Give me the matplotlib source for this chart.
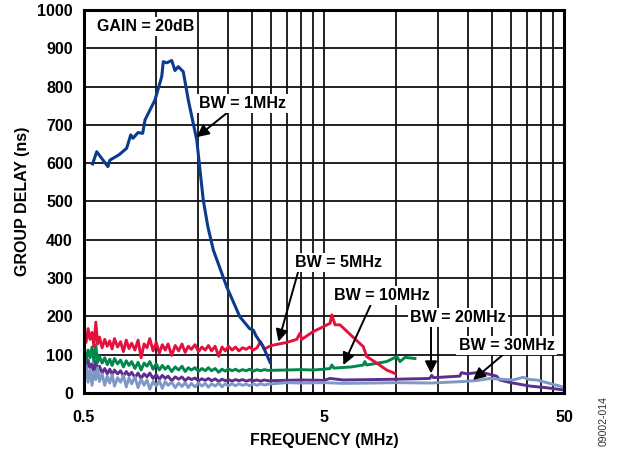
import numpy as np
import matplotlib.pyplot as plt
from matplotlib.ticker import FixedLocator, FixedFormatter, NullFormatter

plt.rcParams['font.family'] = ['Liberation Sans', 'DejaVu Sans']
plt.rcParams['font.weight'] = 'bold'

# Low-frequency sweep points shared by the noisy traces (MHz)
f_low = [0.500, 0.510, 0.520, 0.530, 0.540, 0.550, 0.560, 0.570, 0.580,
         0.595, 0.610, 0.625, 0.640, 0.655, 0.670, 0.690,
         0.710, 0.730, 0.750, 0.770, 0.790,
         0.815, 0.840, 0.865, 0.890, 0.915, 0.940, 0.970,
         1.000, 1.030, 1.060, 1.090, 1.120,
         1.160, 1.200, 1.240, 1.280, 1.320, 1.360, 1.400,
         1.450, 1.500, 1.550, 1.600, 1.650, 1.700,
         1.760, 1.820, 1.880, 1.940, 2.000,
         2.070, 2.140, 2.210, 2.290, 2.370, 2.450, 2.540, 2.630, 2.720, 2.820, 2.920]

# BW = 1MHz
f_1m = [0.543, 0.565, 0.629, 0.641, 0.70, 0.753, 0.783, 0.80, 0.84, 0.878, 0.898,
        0.988, 1.054, 1.07, 1.106, 1.16, 1.197, 1.235, 1.296, 1.36, 1.475, 1.57,
        1.641, 1.73, 1.967, 2.23, 2.45, 2.54, 2.60, 2.79, 2.98]
gd_1m = [598, 630, 591, 608, 622, 639, 674, 665, 680, 678, 713,
         765, 826, 865, 862, 868, 842, 852, 839, 765, 661, 504,
         434, 373, 277, 199, 168, 164, 150, 121, 80]

# BW = 5MHz
gd_5m_low = [150, 132, 168, 140, 158, 122, 185, 128, 146,
             118, 140, 122, 136, 115, 142, 120,
             134, 108, 138, 116, 130,
             112, 138, 92, 128, 118, 142, 110,
             132, 104, 126, 112, 128,
             98, 124, 110, 128, 106, 122, 114,
             126, 108, 120, 112, 124, 110,
             122, 96, 120, 110, 122,
             112, 120, 110, 118, 114, 120, 112, 118, 134, 114, 120]
f_5m_hi = [3.07, 3.5, 3.85, 3.97, 4.04, 4.5, 4.97, 5.30, 5.39, 5.56, 5.83, 6.5,
           7.29, 7.53, 8.3, 9.12, 9.88]
gd_5m_hi = [125, 132, 140, 156, 140, 160, 173, 182, 204, 178, 178, 150,
            121, 95, 78, 60, 51]

# BW = 10MHz
gd_10m_low = [105, 86, 112, 92, 120, 82, 124, 80, 96,
              78, 92, 74, 88, 72, 90, 76,
              86, 68, 84, 72, 82,
              64, 80, 60, 78, 70, 82, 62,
              76, 60, 72, 62, 70,
              56, 68, 60, 70, 56, 66, 60,
              66, 56, 64, 58, 66, 58,
              64, 54, 62, 57, 63,
              58, 62, 57, 61, 58, 62, 57, 61, 58, 61, 59]
f_10m_hi = [3.5, 4.0, 4.5, 4.97, 5.3, 5.39, 5.5, 6.5, 7.29, 7.4, 7.53, 9.12,
            10.05, 10.37, 10.88, 11.97]
gd_10m_hi = [60, 61, 60, 62, 64, 73, 65, 68, 73, 82, 73, 82,
             95, 82, 93, 90]

# BW = 20MHz
gd_20m_low = [80, 60, 86, 64, 76, 55, 82, 58, 70,
              52, 64, 50, 62, 48, 60, 50,
              58, 44, 56, 46, 54,
              40, 52, 38, 50, 42, 52, 38,
              48, 36, 46, 38, 44,
              32, 42, 36, 42, 32, 40, 35,
              39, 32, 37, 33, 38, 32,
              37, 30, 36, 32, 35,
              31, 35, 32, 35, 31, 34, 32, 34, 31, 34, 32]
f_20m_hi = [3.5, 4.0, 5.0, 5.3, 6.0, 8.0, 10.0, 12.0, 13.8, 14.05, 14.3, 18.4,
            18.7, 19.7, 21.6, 23.0, 26.2, 27.0, 30.0, 36.1, 42.0, 49.7]
gd_20m_hi = [33, 34, 33, 38, 34, 35, 36, 37, 38, 46, 40, 44,
             53, 50, 53, 53, 44, 34, 27, 18, 14, 8]

# BW = 30MHz
gd_30m_low = [45, 72, 28, 62, 20, 55, 35, 66, 30,
              50, 20, 44, 26, 48, 18, 40,
              28, 46, 16, 40, 24,
              42, 14, 36, 20, 34, 10, 30,
              18, 32, 12, 30, 20,
              28, 14, 26, 17, 27, 14, 25,
              16, 26, 18, 25, 15, 24,
              18, 26, 16, 24, 19,
              24, 19, 24, 20, 23, 19, 24, 20, 24, 21, 23]
f_30m_hi = [3.5, 4.0, 5.0, 6.0, 8.0, 10.0, 14.0, 19.0, 22.0, 24.6, 27.0, 30.7,
            33.8, 36.0, 38.5, 43.0, 50.0]
gd_30m_hi = [27, 26, 27, 25, 26, 27, 26, 30, 33, 38, 36, 34,
             41, 35, 34, 26, 15]

grid_freqs = [0.5 * k for k in range(1, 11)] + [5 * k for k in range(2, 11)]

fig = plt.figure(figsize=(6.18, 4.5), dpi=100)
ax = fig.add_axes([0.1359, 0.1267, 0.7767, 0.8511])

lw = 2.1
ax.plot(f_low + f_20m_hi, gd_20m_low + gd_20m_hi, color='#5b2e90', lw=lw)
ax.plot(f_low + f_30m_hi, gd_30m_low + gd_30m_hi, color='#7f98c6', lw=lw)
ax.plot(f_low + f_10m_hi, gd_10m_low + gd_10m_hi, color='#00874b', lw=lw)
ax.plot(f_low + f_5m_hi, gd_5m_low + gd_5m_hi, color='#e2123d', lw=lw)
ax.plot(f_1m, gd_1m, color='#0b3b8c', lw=2.2)

ax.set_xscale('log')
ax.set_xlim(0.5, 50)
ax.set_ylim(0, 1000)
ax.xaxis.set_major_locator(FixedLocator([0.5, 5, 50]))
ax.xaxis.set_major_formatter(FixedFormatter(['0.5', '5', '50']))
ax.xaxis.set_minor_locator(FixedLocator(grid_freqs))
ax.xaxis.set_minor_formatter(NullFormatter())
ax.set_yticks(np.arange(0, 1001, 100))

ax.grid(True, which='both', axis='x', color='#111111', lw=1.3)
ax.grid(True, which='major', axis='y', color='#111111', lw=1.3)
ax.set_axisbelow(True)
ax.tick_params(which='both', length=0, labelsize=11.5)
ax.tick_params(axis='y', pad=8)
ax.tick_params(axis='x', pad=12)
for s in ax.spines.values():
    s.set_linewidth(2.2)

ax.set_xlabel('FREQUENCY (MHz)', fontsize=11.5, fontweight='bold', labelpad=6)
ax.set_ylabel('GROUP DELAY (ns)', fontsize=11.5, fontweight='bold', labelpad=5)

box = dict(facecolor='white', edgecolor='none', pad=1.5)
arrow = dict(arrowstyle='-|>', color='black', lw=1.4, mutation_scale=18,
             shrinkA=0, shrinkB=0)

ax.text(0.566, 956, 'GAIN = 20dB', fontsize=11.5, fontweight='bold',
        ha='left', va='center', bbox=box)

labels = [
    ('BW = 1MHz', (2.29, 756), (1.97, 731), (1.475, 668)),
    ('BW = 5MHz', (5.77, 340), (3.90, 316), (3.23, 134)),
    ('BW = 10MHz', (8.72, 254), (7.85, 232), (6.02, 73)),
    ('BW = 20MHz', (18.1, 198), (13.96, 178), (13.96, 51)),
    ('BW = 30MHz', (28.8, 125), (28.1, 102), (20.9, 34)),
]
for txt, pos, tail, tip in labels:
    ax.annotate('', xy=tip, xytext=tail, arrowprops=arrow)
    ax.text(pos[0], pos[1], txt, fontsize=11.5, fontweight='bold',
            ha='center', va='center', bbox=box)

fig.text(0.977, 0.065, '09002-014', rotation=90, fontsize=7.5,
         fontweight='normal', ha='center', va='center', color='#333333')

fig.savefig('out.png', dpi=100)
